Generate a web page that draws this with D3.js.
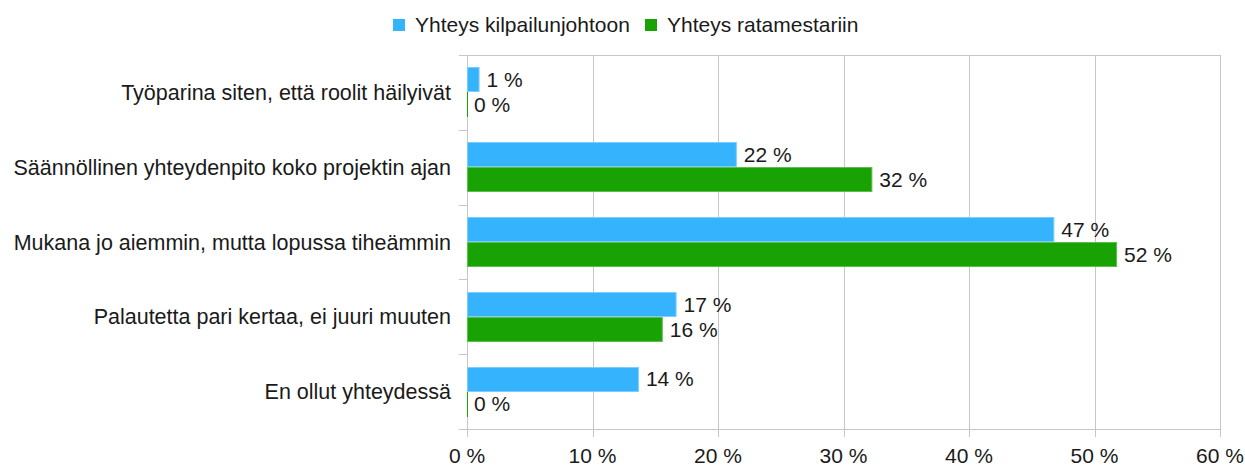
<!DOCTYPE html>
<html>
<head>
<meta charset="utf-8">
<script src="https://cdn.jsdelivr.net/npm/d3@7"></script>
<style>
  body { margin: 0; background: #fff; }
  text { font-family: "Liberation Sans", Arial, sans-serif; fill: #1a1a1a; }
</style>
</head>
<body>
<div id="chart"></div>
<script>
// data
var categories = [
  "Työparina siten, että roolit häilyivät",
  "Säännöllinen yhteydenpito koko projektin ajan",
  "Mukana jo aiemmin, mutta lopussa tiheämmin",
  "Palautetta pari kertaa, ei juuri muuten",
  "En ollut yhteydessä"
];
var seriesNames = ["Yhteys kilpailunjohtoon", "Yhteys ratamestariin"];
var kilpailunjohto = [1.0, 21.5, 46.8, 16.7, 13.7];
var ratamestari = [0, 32.3, 51.8, 15.6, 0];
var xTicks = [0, 10, 20, 30, 40, 50, 60];

var colors = ["#35b3fc", "#18a204"];
var strokes = ["#7ccdfd", "#5cbf4d"];

var w = 1245, h = 466;
var margin = {left: 467, right: 25, top: 55, bottom: 37};
var fs = "21px";

var svg = d3.select("#chart").append("svg")
  .attr("width", w)
  .attr("height", h);

var x = d3.scaleLinear()
  .domain([0, 60])
  .range([margin.left, w - margin.right]);

var y = d3.scaleBand()
  .domain(categories)
  .range([margin.top, h - margin.bottom]);

var inner = d3.scaleBand()
  .domain([0, 1])
  .range([0, y.bandwidth()])
  .paddingOuter(0.5)
  .paddingInner(0);

// gridlines
svg.append("g")
  .selectAll("line")
  .data(xTicks)
  .enter().append("line")
  .attr("x1", function(d) { return Math.round(x(d)) + 0.5; })
  .attr("x2", function(d) { return Math.round(x(d)) + 0.5; })
  .attr("y1", margin.top)
  .attr("y2", h - margin.bottom + 8)
  .attr("stroke", "#c6c6c6")
  .attr("stroke-width", 1);

// top and bottom lines
svg.append("line")
  .attr("x1", margin.left - 8).attr("x2", x(60) + 0.5)
  .attr("y1", margin.top + 0.5).attr("y2", margin.top + 0.5)
  .attr("stroke", "#c6c6c6");
svg.append("line")
  .attr("x1", margin.left - 8).attr("x2", x(60) + 0.5)
  .attr("y1", h - margin.bottom + 0.5).attr("y2", h - margin.bottom + 0.5)
  .attr("stroke", "#c6c6c6");

// y ticks between categories
svg.append("g")
  .selectAll("line")
  .data(categories.slice(1))
  .enter().append("line")
  .attr("x1", margin.left - 8)
  .attr("x2", margin.left)
  .attr("y1", function(d) { return Math.round(y(d)) + 0.5; })
  .attr("y2", function(d) { return Math.round(y(d)) + 0.5; })
  .attr("stroke", "#c6c6c6");

// x tick labels
svg.append("g")
  .selectAll("text")
  .data(xTicks)
  .enter().append("text")
  .attr("x", function(d) { return x(d); })
  .attr("y", h - 3)
  .attr("text-anchor", "middle")
  .style("font-size", fs)
  .text(function(d) { return d + " %"; });

// category labels
svg.append("g")
  .selectAll("text")
  .data(categories)
  .enter().append("text")
  .attr("x", margin.left - 16)
  .attr("y", function(d) { return y(d) + y.bandwidth() / 2; })
  .attr("dy", "0.35em")
  .attr("text-anchor", "end")
  .style("font-size", "21.5px")
  .text(function(d) { return d; });

// bars
var series = [kilpailunjohto, ratamestari];
series.forEach(function(vals, si) {
  var g = svg.append("g");
  g.selectAll("rect")
    .data(vals)
    .enter().append("rect")
    .attr("x", x(0) + 0.5)
    .attr("y", function(d, i) { return Math.round(y(categories[i]) + inner(si)) + 0.5; })
    .attr("width", function(d) { return Math.max(0.01, x(d) - x(0) - 1); })
    .attr("height", Math.round(inner.bandwidth()) - 1)
    .attr("fill", colors[si])
    .attr("stroke", function(d) { return d === 0 ? colors[si] : strokes[si]; })
    .attr("stroke-width", 1);

  g.selectAll("text")
    .data(vals)
    .enter().append("text")
    .attr("x", function(d) { return x(d) + 7; })
    .attr("y", function(d, i) { return y(categories[i]) + inner(si) + inner.bandwidth() / 2; })
    .attr("dy", "0.35em")
    .style("font-size", fs)
    .text(function(d) { return Math.round(d) + " %"; });
});

// legend
var legend = svg.append("g");
var legX = [393, 645];
seriesNames.forEach(function(name, i) {
  legend.append("rect")
    .attr("x", legX[i])
    .attr("y", 19)
    .attr("width", 12)
    .attr("height", 12)
    .attr("fill", colors[i]);
  legend.append("text")
    .attr("x", legX[i] + 22)
    .attr("y", 25)
    .attr("dy", "0.35em")
    .style("font-size", fs)
    .text(name);
});
</script>
</body>
</html>
